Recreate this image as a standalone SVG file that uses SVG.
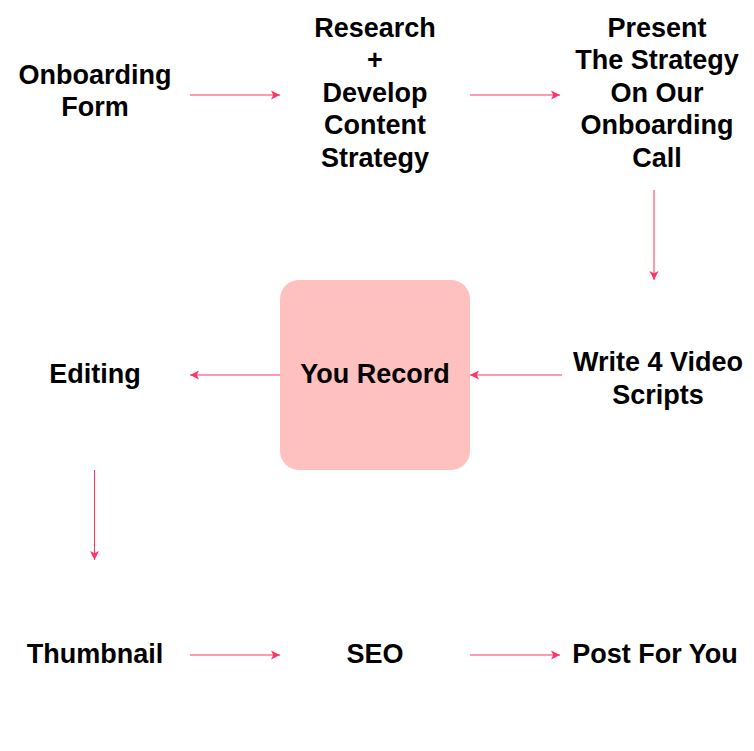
<svg xmlns="http://www.w3.org/2000/svg" width="754" height="751" viewBox="0 0 754 751">
<style>
.t{font-family:"Liberation Sans",Arial,Helvetica,sans-serif;font-weight:bold;font-size:27px;fill:#000;text-anchor:middle}
.c{stroke:#FF3366;stroke-width:1;fill:none}
</style>
<defs>
<marker id="ah" markerWidth="10" markerHeight="10" refX="9" refY="4.5" orient="auto" markerUnits="userSpaceOnUse" viewBox="0 0 10 9">
<path d="M0,0 L9,4.5 L0,9 L2.2,4.5 Z" fill="#FF3366"/>
</marker>
</defs>
<rect width="754" height="751" fill="#fff"/>
<g id="connectors">
<line class="c" x1="190" y1="95" x2="280" y2="95" marker-end="url(#ah)"/>
<line class="c" x1="470" y1="95" x2="560" y2="95" marker-end="url(#ah)"/>
<line class="c" x1="654" y1="190" x2="654" y2="280" marker-end="url(#ah)"/>
<line class="c" x1="562" y1="375" x2="470" y2="375" marker-end="url(#ah)"/>
<line class="c" x1="280" y1="375" x2="190" y2="375" marker-end="url(#ah)"/>
<line class="c" x1="94.5" y1="470" x2="94.5" y2="560" marker-end="url(#ah)"/>
<line class="c" x1="190" y1="655" x2="280" y2="655" marker-end="url(#ah)"/>
<line class="c" x1="470" y1="655" x2="560" y2="655" marker-end="url(#ah)"/>
</g>
<g id="onboarding-form"><text class="t" x="95" y="83.5">Onboarding</text><text class="t" x="95" y="116">Form</text></g>
<g id="research"><text class="t" x="375" y="36.5">Research</text><text class="t" x="375" y="69">+</text><text class="t" x="375" y="101.5">Develop</text><text class="t" x="375" y="134">Content</text><text class="t" x="375" y="166.5">Strategy</text></g>
<g id="present"><text class="t" x="657" y="36.5">Present</text><text class="t" x="657" y="69">The Strategy</text><text class="t" x="657" y="101.5">On Our</text><text class="t" x="657" y="134">Onboarding</text><text class="t" x="657" y="166.5">Call</text></g>
<g id="write-scripts"><text class="t" x="658" y="371">Write 4 Video</text><text class="t" x="658" y="403.5">Scripts</text></g>
<g id="you-record"><rect x="280" y="280" width="190" height="190" rx="19" ry="19" fill="#FFC0C0"/><text class="t" x="375" y="383">You Record</text></g>
<g id="editing"><text class="t" x="95" y="383">Editing</text></g>
<g id="thumbnail"><text class="t" x="95" y="663">Thumbnail</text></g>
<g id="seo"><text class="t" x="375" y="663">SEO</text></g>
<g id="post"><text class="t" x="655" y="663">Post For You</text></g>
</svg>
